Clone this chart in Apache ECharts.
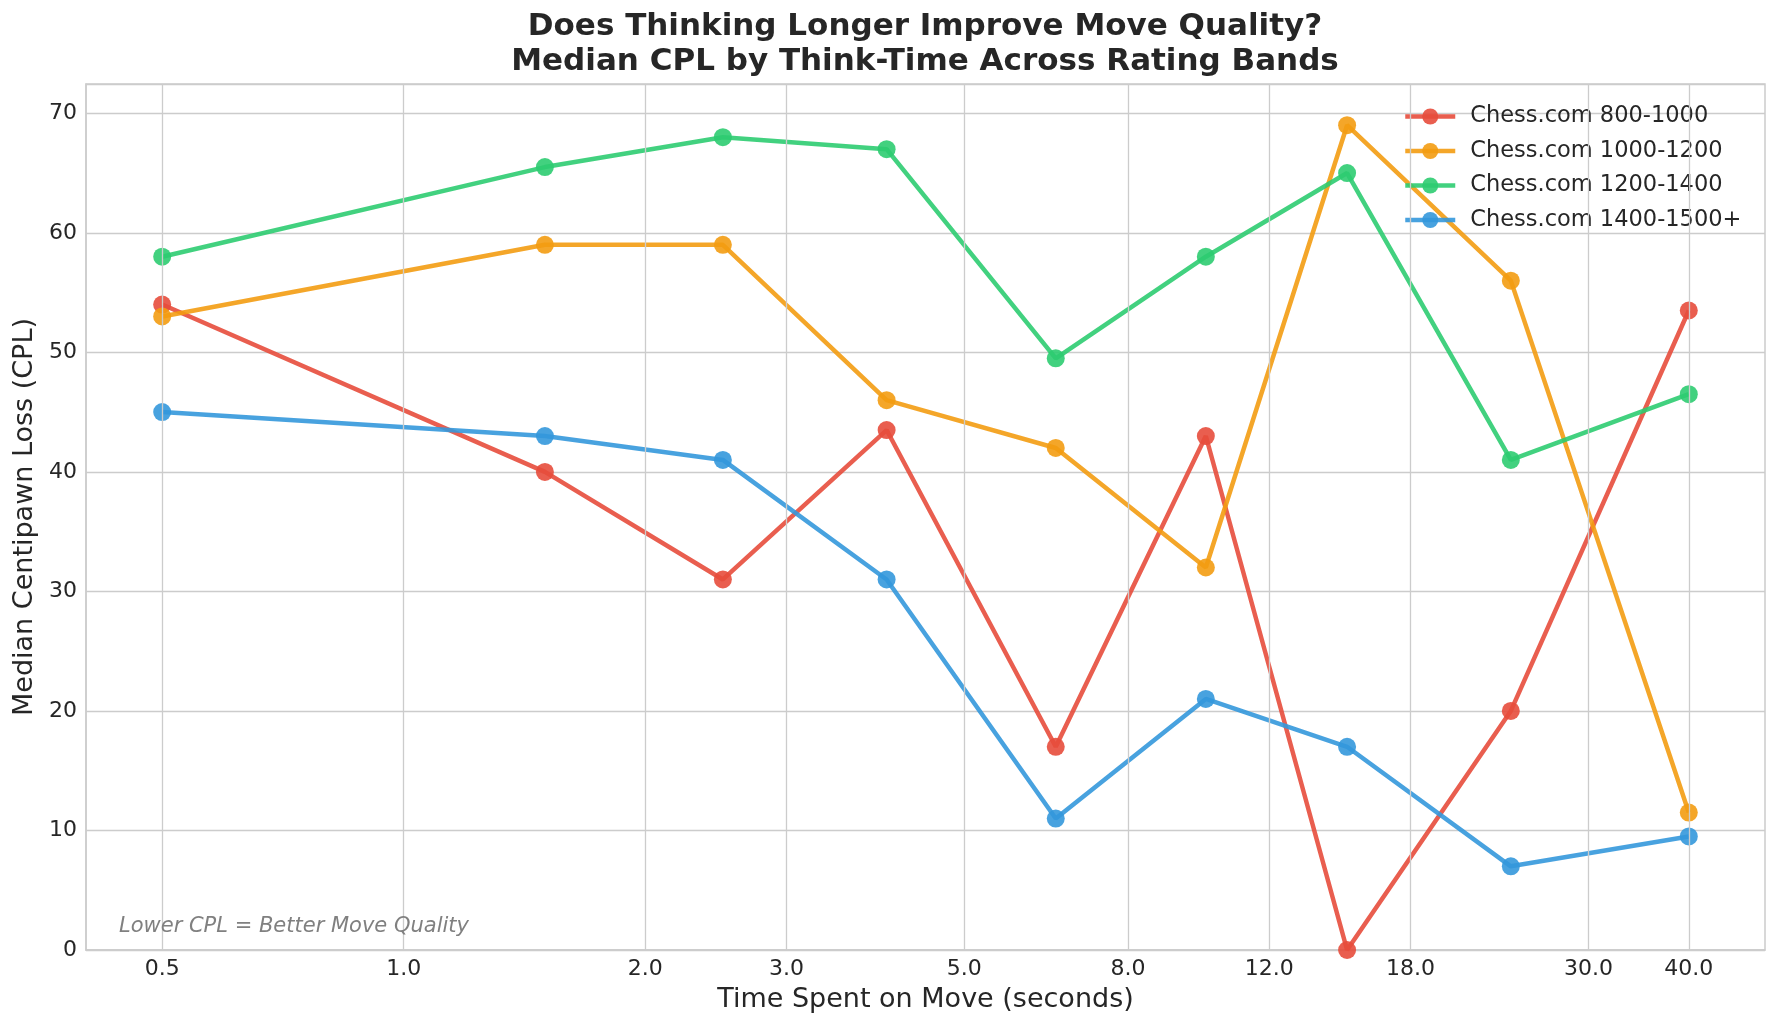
<!DOCTYPE html>
<html>
<head>
<meta charset="utf-8">
<title>Median CPL by Think-Time</title>
<script src="https://cdn.jsdelivr.net/npm/echarts@6/dist/echarts.min.js"></script>
<style>
  html, body { margin: 0; padding: 0; background: #fff; }
  #chart { width: 1780px; height: 1030px; }
</style>
</head>
<body>
<div id="chart"></div>
<script>
// bin midpoints (seconds) and the tick labels shown on the log axis
var thinkTimes = [0.5, 1.5, 2.5, 4, 6.5, 10, 15, 24, 40];
var xTicks = [0.5, 1, 2, 3, 5, 8, 12, 18, 30, 40];
var yTicks = [0, 10, 20, 30, 40, 50, 60, 70];

var bandNames = ['Chess.com 800-1000', 'Chess.com 1000-1200', 'Chess.com 1200-1400', 'Chess.com 1400-1500+'];
var cpl800 = [54, 40, 31, 43.5, 17, 43, 0, 20, 53.5];
var cpl1000 = [53, 59, 59, 46, 42, 32, 69, 56, 11.5];
var cpl1200 = [58, 65.5, 68, 67, 49.5, 58, 65, 41, 46.5];
var cpl1400 = [45, 43, 41, 31, 11, 21, 17, 7, 9.5];

var colors = ['#e74c3c', '#f39c12', '#2ecc71', '#3498db'];
var font = 'DejaVu Sans';

var chart = echarts.init(document.getElementById('chart'));

function pairs(vals) {
  return thinkTimes.map(function (t, i) { return [t, vals[i]]; });
}

var bands = [cpl800, cpl1000, cpl1200, cpl1400];
var series = bands.map(function (vals, i) {
  return {
    name: bandNames[i],
    type: 'line',
    data: pairs(vals),
    z: 3,
    symbol: 'circle',
    symbolSize: 18,
    lineStyle: { width: 4.5, color: colors[i], opacity: 0.9 },
    itemStyle: { color: colors[i], opacity: 0.9 },
    emphasis: { disabled: true }
  };
});

// vertical grid lines at the custom log ticks
series.unshift({
  name: 'grid',
  type: 'line',
  data: [],
  z: 1,
  silent: true,
  markLine: {
    silent: true,
    symbol: ['none', 'none'],
    label: { show: false },
    lineStyle: { color: '#cccccc', width: 1.3, type: 'solid' },
    emphasis: { disabled: true },
    data: xTicks.map(function (v) { return { xAxis: v }; })
  }
});

var option = {
  color: colors,
  animation: false,
  textStyle: { fontFamily: font },
  graphic: [
    {
      type: 'text',
      x: 925, y: 27,
      style: {
        text: 'Does Thinking Longer Improve Move Quality?',
        font: 'bold 31px "DejaVu Sans"',
        fill: '#262626',
        textAlign: 'center',
        textVerticalAlign: 'middle'
      }
    },
    {
      type: 'text',
      x: 925, y: 62,
      style: {
        text: 'Median CPL by Think-Time Across Rating Bands',
        font: 'bold 31px "DejaVu Sans"',
        fill: '#262626',
        textAlign: 'center',
        textVerticalAlign: 'middle'
      }
    },
    {
      type: 'text',
      x: 119, y: 927,
      z: 10,
      style: {
        text: 'Lower CPL = Better Move Quality',
        font: 'italic 21px "DejaVu Sans"',
        fill: '#808080',
        textVerticalAlign: 'middle'
      }
    }
  ],
  legend: {
    data: bandNames,
    orient: 'vertical',
    left: 1403,
    top: 105,
    padding: 0,
    itemGap: 11.5,
    itemWidth: 50,
    itemHeight: 20,
    lineStyle: { width: 4.5 },
    textStyle: { fontSize: 22.5, color: '#262626', fontFamily: font, padding: [0, 0, 0, 10] }
  },
  grid: {
    left: 86,
    right: 15,
    top: 84,
    bottom: 80,
    show: true,
    borderColor: '#cccccc',
    borderWidth: 1.5,
    containLabel: false
  },
  xAxis: {
    type: 'log',
    logBase: 10,
    min: 0.4018,
    max: 49.78,
    name: 'Time Spent on Move (seconds)',
    nameLocation: 'middle',
    nameGap: 36,
    nameTextStyle: { fontSize: 27, color: '#262626' },
    axisLine: { show: true, lineStyle: { color: '#cccccc', width: 1.5 } },
    axisTick: { show: false },
    splitLine: { show: false },
    minorSplitLine: { show: false },
    axisLabel: {
      customValues: xTicks,
      fontSize: 22,
      color: '#262626',
      margin: 8,
      formatter: function (v) { return Number(v).toFixed(1); }
    }
  },
  yAxis: {
    type: 'value',
    min: 0,
    max: 72.45,
    interval: 10,
    name: 'Median Centipawn Loss (CPL)',
    nameLocation: 'middle',
    nameGap: 47,
    nameTextStyle: { fontSize: 27, color: '#262626' },
    axisLine: { show: true, lineStyle: { color: '#cccccc', width: 1.5 } },
    axisTick: { show: false },
    splitLine: { show: true, lineStyle: { color: '#cccccc', width: 1.3 } },
    axisLabel: {
      fontSize: 22,
      color: '#262626',
      margin: 9,
      formatter: function (v) { return yTicks.indexOf(v) >= 0 ? String(v) : ''; }
    }
  },
  series: series
};

chart.setOption(option);
</script>
</body>
</html>
